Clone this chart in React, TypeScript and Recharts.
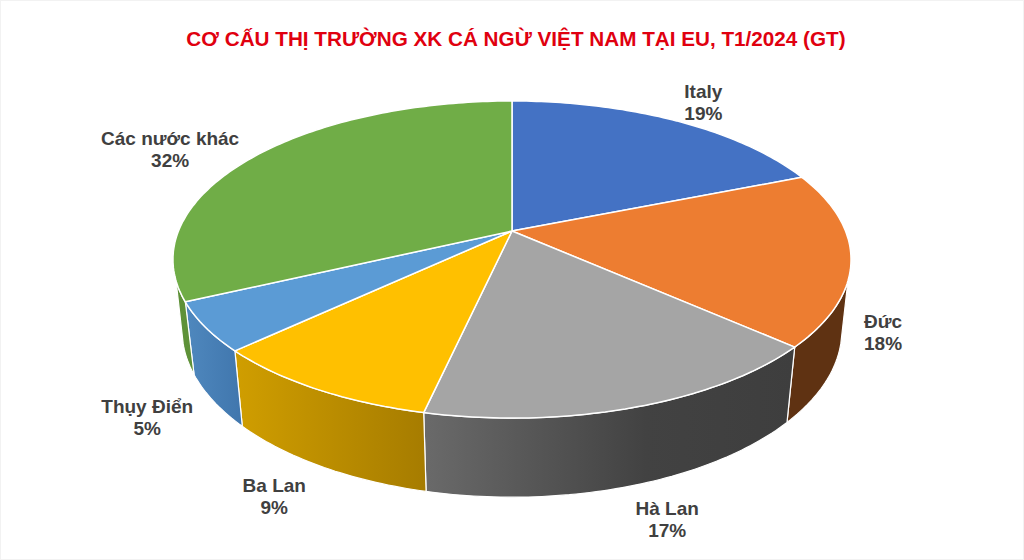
import React from "react";
import { PieChart, Pie } from "recharts";

const countries = ["Italy", "Đức", "Hà Lan", "Ba Lan", "Thụy Điển", "Các nước khác"];
const shares = [18.9, 17.7, 16.9, 9.49, 5.0, 32.01];
const topColors = ["#4472C4", "#ED7D31", "#A5A5A5", "#FFC000", "#5B9BD5", "#70AD47"];
const sideColors = ["#2F5597", "#5F3212", "url(#sideGray)", "url(#sideGold)", "url(#sideSky)", "#5E9138"];

// label offset from the rim point of each slice's middle
const labelNudges = [[29, -17], [32, 75], [32, 113], [-42, 108], [-58, 91], [-85, -6]];

const data = countries.map((name, i) => ({ name, value: shares[i] }));

const WIDTH = 1024;
const HEIGHT = 560;
const LABEL_COLOR = "#404040";
const FONT = "'Liberation Sans', Arial, sans-serif";

// perspective of the disc: top face and the bottom rim
const PERSPECTIVE = 0.18;
const topPlane = { a: 333.5, b: 153.4, dy: 0 };
const bottomPlane = { a: 324.5, b: 161.7, dy: 69 };

// part of the rim that shows as a wall, clockwise degrees from 12 o'clock
const TOP_WALL = [108, 252];
const BOTTOM_WALL = [105, 255];

const project = (cx: number, cy: number, angle: number, plane: typeof topPlane) => {
  const t = ((90 - angle) * Math.PI) / 180;
  const den = 1 + PERSPECTIVE * Math.cos(t);
  return [cx + (plane.a * Math.sin(t)) / den, cy + plane.dy - (plane.b * Math.cos(t)) / den];
};

const arc = (cx: number, cy: number, from: number, to: number, plane: typeof topPlane) => {
  const steps = Math.max(2, Math.ceil(Math.abs(to - from)));
  const pts: string[] = [];
  for (let i = 0; i <= steps; i++) {
    const p = project(cx, cy, from + ((to - from) * i) / steps, plane);
    pts.push(p[0].toFixed(1) + " " + p[1].toFixed(1));
  }
  return pts;
};

const TopSlice = (props: any) => {
  const { cx, cy, startAngle, endAngle, index } = props;
  const pts = arc(cx, cy, startAngle, endAngle, topPlane);
  return (
    <path
      d={"M" + cx + " " + cy + " L" + pts.join(" L") + " Z"}
      fill={topColors[index]}
      stroke="#fff"
      strokeWidth={1.5}
      strokeLinejoin="round"
    />
  );
};

const SideSlice = (props: any) => {
  const { cx, cy, startAngle, endAngle, index } = props;
  const from = 90 - startAngle;
  const to = 90 - endAngle;
  const upFrom = Math.max(from, TOP_WALL[0]);
  const upTo = Math.min(to, TOP_WALL[1]);
  if (upFrom >= upTo) return <g />;
  const upper = arc(cx, cy, 90 - upFrom, 90 - upTo, topPlane);
  const lower = arc(cx, cy, 90 - Math.min(to, BOTTOM_WALL[1]), 90 - Math.max(from, BOTTOM_WALL[0]), bottomPlane);
  return (
    <path
      d={"M" + upper.concat(lower).join(" L") + " Z"}
      fill={sideColors[index]}
      stroke="#fff"
      strokeWidth={1.2}
      strokeLinejoin="round"
    />
  );
};

const renderLabel = (props: any) => {
  const { cx, cy, midAngle, index, name, percent } = props;
  const rim = project(cx, cy, midAngle, topPlane);
  const x = rim[0] + labelNudges[index][0];
  const y = rim[1] + labelNudges[index][1];
  return (
    <text
      key={name}
      x={x}
      textAnchor="middle"
      fill={LABEL_COLOR}
      fontFamily={FONT}
      fontSize={19}
      fontWeight="bold"
    >
      <tspan x={x} y={y - 5}>{name}</tspan>
      <tspan x={x} y={y + 17}>{Math.round(percent * 100)}%</tspan>
    </text>
  );
};

export default function App() {
  return (
    <div style={{ position: "absolute", left: 0, top: 0, width: WIDTH, height: HEIGHT, background: "#fff" }}>
      <PieChart width={WIDTH} height={HEIGHT} margin={{ top: 0, right: 0, bottom: 0, left: 0 }}>
        <defs>
          <linearGradient id="sideGray" x1="0" y1="0" x2="1" y2="0">
            <stop offset="0" stopColor="#6A6A6A" />
            <stop offset="0.6" stopColor="#424242" />
            <stop offset="1" stopColor="#3E3E3E" />
          </linearGradient>
          <linearGradient id="sideGold" x1="0" y1="0" x2="1" y2="0">
            <stop offset="0" stopColor="#D09E00" />
            <stop offset="1" stopColor="#A67C00" />
          </linearGradient>
          <linearGradient id="sideSky" x1="0" y1="0" x2="1" y2="0">
            <stop offset="0" stopColor="#4F88BE" />
            <stop offset="1" stopColor="#4076AD" />
          </linearGradient>
        </defs>
        <rect x={0.5} y={0.5} width={WIDTH - 1} height={HEIGHT - 1} fill="none" stroke="#f2f2f2" />
        <text
          x={516}
          y={46}
          textAnchor="middle"
          fill="#E0000F"
          fontFamily={FONT}
          fontSize={20.7}
          fontWeight="bold"
        >
          CƠ CẤU THỊ TRƯỜNG XK CÁ NGỪ VIỆT NAM TẠI EU, T1/2024 (GT)
        </text>
        <Pie
          data={data}
          dataKey="value"
          nameKey="name"
          cx={512}
          cy={231}
          outerRadius={130}
          startAngle={90}
          endAngle={-270}
          shape={SideSlice}
          isAnimationActive={false}
        />
        <Pie
          data={data}
          dataKey="value"
          nameKey="name"
          cx={512}
          cy={231}
          outerRadius={130}
          startAngle={90}
          endAngle={-270}
          shape={TopSlice}
          label={renderLabel}
          labelLine={false}
          isAnimationActive={false}
        />
      </PieChart>
    </div>
  );
}
